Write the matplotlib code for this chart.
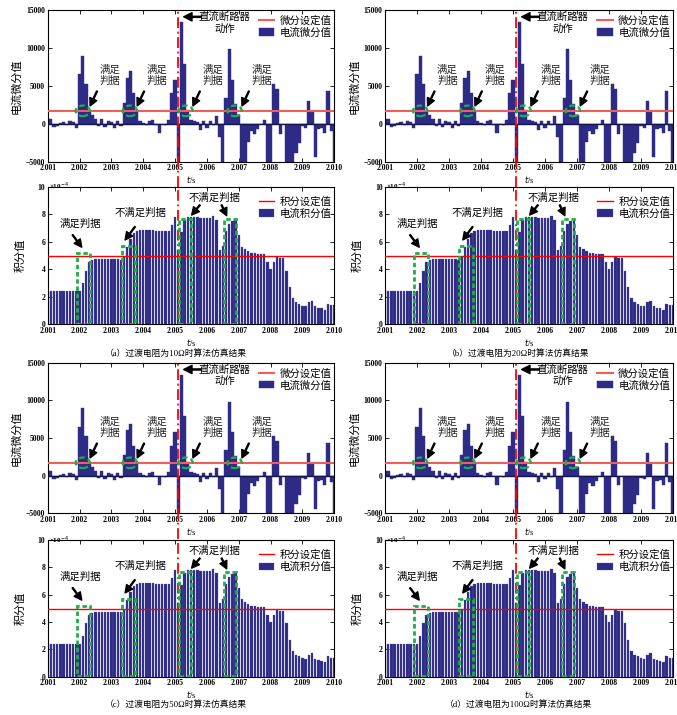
import matplotlib
matplotlib.use('Agg')
import matplotlib.pyplot as plt
import numpy as np
from matplotlib.patches import Ellipse, Rectangle

plt.rcParams['font.family'] = ['Liberation Serif', 'Noto Sans CJK SC', 'DejaVu Sans']

# ---------------- data ----------------
t_start = 2.001
t_step = 0.0001
deriv = [600, 600, -400, -300, 100, 200, -200, 300, 200, -600,
         6500, 9000, 5200, 1700, 1100, 600, -300, 600, -400, 300,
         200, -600, 300, -300, 2800, 6100, 6900, 4000, 1500, 400,
         100, -200, 400, 500, -100, -1200, 0, -200, 500, 4000,
         5800, -6000, 13400, 7900, 1800, 500, 300, 200, -800, 300,
         -500, 300, -200, 1000, -1800, -6000, 3400, 9800, 5800, 2600,
         1200, -6000, -6000, -2400, -1000, -1400, -700, 0, 500, -6000,
         -6000, 5200, 4600, -1300, 0, -6000, -6000, -6000, -3800, -2600,
         -300, -500, 3000, 1600, -4400, -700, -600, -1200, 4300, -900,
         -6000]
integ = [2.4, 2.4, 2.4, 2.4, 2.4, 2.4, 2.4, 2.4, 2.4, 2.4,
         2.4, 3.0, 3.9, 4.55, 4.65, 4.72, 4.75, 4.75, 4.75, 4.75,
         4.75, 4.74, 4.74, 4.7, 4.9, 5.6, 6.2, 6.6, 6.75, 6.85,
         6.85, 6.85, 6.83, 6.82, 6.8, 6.8, 6.78, 6.75, 6.8, 7.2,
         7.8, 5.4, 6.7, 7.6, 7.8, 7.8, 7.8, 7.78, 7.75, 7.75,
         7.7, 7.7, 7.85, 7.6, 5.4, 5.7, 6.8, 7.3, 7.5, 7.6,
         6.5, 5.65, 5.45, 5.3, 5.2, 5.15, 5.1, 5.1, 5.1, 4.5,
         4.0, 4.5, 4.9, 4.8, 4.8, 3.9, 2.7, 1.9, 1.6, 1.5,
         1.35, 1.3, 1.6, 1.7, 1.3, 1.2, 1.15, 1.05, 1.5, 1.4,
         1.4]
time = np.round(t_start + t_step * np.arange(len(deriv)), 4)

deriv_threshold = 1700
integ_threshold = 4.95
breaker_time = 2.00508

deriv_ticks = [-5000, 0, 5000, 10000, 15000]
integ_ticks = [0, 2, 4, 6, 8, 10]
x_ticks = [2.001, 2.002, 2.003, 2.004, 2.005, 2.006, 2.007, 2.008, 2.009, 2.010]
x_ticklabels = ['2.001', '2.002', '2.003', '2.004', '2.005', '2.006', '2.007', '2.008', '2.009', '2.010']

ellipse_x = [2.0021, 2.00358, 2.00533, 2.00687]
box_ranges = [(2.00191, 2.00233, 5.16), (2.00332, 2.00374, 5.69),
              (2.00513, 2.00550, 7.67), (2.00654, 2.00692, 7.65)]

captions = ['（a）过渡电阻为10Ω时算法仿真结果', '（b）过渡电阻为20Ω时算法仿真结果',
            '（c）过渡电阻为50Ω时算法仿真结果', '（d）过渡电阻为100Ω时算法仿真结果']

navy = '#2d2b85'
green = '#1fae48'

W, H = 677, 715
fig = plt.figure(figsize=(W / 100, H / 100), dpi=100)


def frac_ax(left, top, right, bottom):
    return fig.add_axes([left / W, 1 - bottom / H, (right - left) / W, (bottom - top) / H])


def style(ax, yticks):
    ax.set_xlim(2.001, 2.010)
    ax.set_xticks(x_ticks)
    ax.set_xticklabels(x_ticklabels)
    ax.set_yticks(yticks)
    ax.tick_params(direction='in', top=True, right=True, length=3, width=0.6,
                   labelsize=5.5, pad=1.8)
    for lab in ax.get_xticklabels() + ax.get_yticklabels():
        lab.set_fontweight('bold')
    for s in ax.spines.values():
        s.set_linewidth(0.8)


arrow = dict(facecolor='black', edgecolor='black', width=0.7,
             headwidth=5.5, headlength=5.5, shrink=0.0)


def draw_deriv(ax):
    ax.bar(time, deriv, width=t_step, color=navy, edgecolor=navy, linewidth=0.3,
           label='电流微分值', zorder=2)
    ax.axhline(0, color='#15154a', lw=1.0, zorder=3)
    ax.axhline(deriv_threshold, color='#f45c5c', lw=1.5, label='微分设定值', zorder=4)
    ax.set_ylim(-5000, 15000)
    style(ax, deriv_ticks)
    ax.axvline(breaker_time, ymin=-0.17, ymax=1.0, color='red', lw=1.3,
               ls=(0, (6, 2, 1, 2)), clip_on=False, zorder=5)
    for ex in ellipse_x:
        ax.add_patch(Ellipse((ex, deriv_threshold), 0.00045, 1400, fill=False,
                             ec=green, lw=1.6, ls=(0, (2.5, 1.5)), zorder=6))
        ax.text(ex + 0.00085, 6400, '满足\n判据', ha='center', va='center',
                fontsize=7.5, linespacing=1.15, color='#222222')
        ax.annotate('', xy=(ex + 0.00023, deriv_threshold + 650),
                    xytext=(ex + 0.00045, 4300), arrowprops=arrow)
    ax.text(2.00655, 13300, '直流断路器\n动作', ha='center', va='center',
            fontsize=7.5, linespacing=1.15)
    ax.annotate('', xy=(2.00527, 14100), xytext=(2.00582, 14100),
                arrowprops=dict(facecolor='black', edgecolor='black', width=0.8,
                                headwidth=6, headlength=6, shrink=0.0))
    ax.legend(loc='upper right', frameon=False, fontsize=7.5,
              handlelength=1.5, handletextpad=0.5, labelspacing=0.15,
              borderaxespad=0.15, bbox_to_anchor=(1.01, 1.0))
    ax.set_ylabel('电流微分值', fontsize=8, labelpad=3)
    ax.set_xlabel('$t$/s', fontsize=6, labelpad=1.5)


def draw_integ(ax):
    ax.bar(time, integ, width=t_step * 0.72, color=navy, edgecolor='#5a58a8',
           linewidth=0.2, label='电流积分值', zorder=2)
    ax.axhline(integ_threshold, color='red', lw=1.0, label='积分设定值', zorder=4)
    ax.set_ylim(0, 10)
    style(ax, integ_ticks)
    ax.axvline(breaker_time, ymin=0.03, ymax=1.0, color='red', lw=1.3,
               ls=(0, (6, 2, 1, 2)), clip_on=False, zorder=5)
    for x0, x1, top in box_ranges:
        ax.add_patch(Rectangle((x0, 0.05), x1 - x0, top - 0.05, fill=False,
                               ec=green, lw=2.0, ls=(0, (1.6, 1.0)), zorder=6))
    ax.text(2.00202, 7.29, '满足判据', ha='center', va='center', fontsize=7.5)
    ax.annotate('', xy=(2.00207, 5.6), xytext=(2.00178, 6.5), arrowprops=arrow)
    ax.text(2.00390, 8.09, '不满足判据', ha='center', va='center', fontsize=7.5)
    ax.annotate('', xy=(2.00343, 6.13), xytext=(2.00374, 7.09), arrowprops=arrow)
    ax.text(2.00625, 9.18, '不满足判据', ha='center', va='center', fontsize=7.5)
    ax.annotate('', xy=(2.00552, 7.94), xytext=(2.00578, 8.67), arrowprops=arrow)
    ax.annotate('', xy=(2.00662, 7.89), xytext=(2.00646, 8.67), arrowprops=arrow)
    ax.legend(loc='upper right', frameon=False, fontsize=7.5,
              handlelength=1.5, handletextpad=0.5, labelspacing=0.15,
              borderaxespad=0.15, bbox_to_anchor=(1.01, 0.97))
    ax.set_ylabel('积分值', fontsize=8, labelpad=9)
    ax.set_xlabel('$t$/s', fontsize=6, labelpad=1.5)
    ax.text(0.005, 1.0, '×10$^{-4}$', transform=ax.transAxes, ha='left', va='center',
            fontsize=5, fontweight='bold')


columns = [(47.7, 334.3), (385.0, 673.0)]
rows = [(10.0, 161.7, 186.7, 324.3, 353.0), (362.7, 513.3, 540.0, 676.7, 704.5)]
cap_x = [176.0, 518.0]

k = 0
for r in rows:
    for ci, (left, right) in enumerate(columns):
        axd = frac_ax(left, r[0], right, r[1])
        draw_deriv(axd)
        axi = frac_ax(left, r[2], right, r[3])
        draw_integ(axi)
        fig.text(cap_x[ci] / W, 1 - r[4] / H, captions[k], ha='center', va='center',
                 fontsize=6.3)
        k += 1

fig.savefig('out.png', dpi=100)
